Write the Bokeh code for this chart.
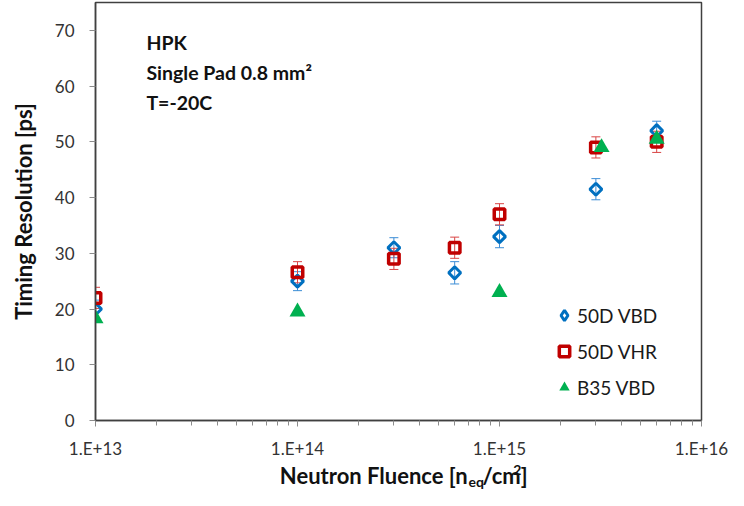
import math
from bokeh.plotting import figure
from bokeh.layouts import column
from bokeh.models import (ColumnDataSource, Whisker, TeeHead, Label, Range1d,
                          FixedTicker, CustomJSTickFormatter, Legend)
from bokeh.embed import file_html
from bokeh.resources import INLINE

# ---- data ----
vbd_x = [1e13, 1e14, 3e14, 6e14, 1e15, 3e15, 6e15]
vbd_y = [20.0, 25.0, 31.0, 26.5, 33.0, 41.5, 52.0]
vbd_err = [1.6, 1.7, 1.8, 2.0, 2.0, 1.9, 1.7]

vhr_x = [1e13, 1e14, 3e14, 6e14, 1e15, 3e15, 6e15]
vhr_y = [22.0, 26.6, 29.0, 31.0, 37.0, 49.0, 50.0]
vhr_err = [1.9, 1.9, 1.9, 1.9, 1.9, 1.9, 1.9]

b35_x = [1e13, 1e14, 1e15, 3.2e15, 6e15]
b35_y = [18.3, 19.5, 23.0, 49.0, 50.5]

x_major = [1e13, 1e14, 1e15, 1e16]
y_ticks = [0, 10, 20, 30, 40, 50, 60, 70]

FONT = "Lato"
BLUE = "#0070C0"
RED = "#C00000"
GREEN = "#00B050"

p = figure(width=728, height=462, x_axis_type="log",
           x_range=Range1d(1e13, 1e16), y_range=Range1d(0, 75),
           output_backend="svg", toolbar_location=None,
           min_border_left=95, min_border_right=27, min_border_top=2,
           min_border_bottom=42)
p.grid.visible = False
p.outline_line_color = "#404040"
p.outline_line_width = 1.5
p.background_fill_color = "white"
p.border_fill_color = "white"

minor = [m * d for d in [1e13, 1e14, 1e15] for m in range(2, 10)]
p.xaxis.ticker = FixedTicker(ticks=x_major, minor_ticks=minor)
p.xaxis.formatter = CustomJSTickFormatter(
    code="return '1.E+' + Math.round(Math.log10(tick));")
p.yaxis.ticker = FixedTicker(ticks=y_ticks)

for ax in (p.xaxis[0], p.yaxis[0]):
    ax.axis_line_color = "#404040"
    ax.axis_line_width = 1.5
    ax.major_tick_line_color = "#8c8c8c"
    ax.minor_tick_line_color = "#8c8c8c"
    ax.major_tick_in = 0
    ax.major_tick_out = 6
    ax.minor_tick_in = 0
    ax.minor_tick_out = 5
    ax.major_label_text_font = FONT
    ax.major_label_text_font_size = "17px"
    ax.major_label_text_color = "#333333"
    ax.major_label_standoff = 11

p.yaxis.major_label_standoff = 15
p.yaxis.minor_tick_line_color = None
p.yaxis.axis_label = "Timing Resolution [ps]"
p.yaxis.axis_label_text_font = FONT
p.yaxis.axis_label_text_font_size = "22px"
p.yaxis.axis_label_text_font_style = "bold"
p.yaxis.axis_label_text_color = "#111111"
p.yaxis.axis_label_standoff = 15

# error bars
for xs, ys, es, col in [(vbd_x, vbd_y, vbd_err, "#3C8DD6"),
                        (vhr_x, vhr_y, vhr_err, "#D94545")]:
    src = ColumnDataSource(dict(x=xs, upper=[y + e for y, e in zip(ys, es)],
                                lower=[y - e for y, e in zip(ys, es)]))
    w = Whisker(base="x", upper="upper", lower="lower", source=src,
                line_color=col, line_width=1,
                upper_head=TeeHead(size=9, line_color=col, line_width=1),
                lower_head=TeeHead(size=9, line_color=col, line_width=1))
    p.add_layout(w)

r1 = p.scatter(vbd_x, vbd_y, marker="square", angle=math.pi / 4, size=8.5,
               line_color=BLUE, line_width=3, fill_color=None)
r2 = p.scatter(vhr_x, vhr_y, marker="square", size=10.5,
               line_color=RED, line_width=3.5, fill_color=None)
r3 = p.scatter(b35_x, b35_y, marker="triangle", size=16,
               line_color=GREEN, fill_color=GREEN, line_width=0)

# legend proxy for the diamond (legend glyphs ignore angle); not drawn in plot
r1_leg = p.scatter(x=[1e13], y=[float("nan")], marker="diamond", line_color=BLUE,
                   line_width=3, fill_color=None)

legend = Legend(items=[("50D VBD", [r1_leg]), ("50D VHR", [r2]), ("B35 VBD", [r3])],
                location=(456, 20), padding=0, margin=0, spacing=10,
                glyph_width=26, glyph_height=26, label_height=26,
                label_standoff=0, border_line_color=None,
                background_fill_alpha=0,
                label_text_font=FONT, label_text_font_size="19px",
                label_text_color="#1a1a1a")
p.add_layout(legend, "center")

# annotation text
for txt, yv in [("HPK", 67.8), ("Single Pad 0.8 mm\u00b2", 62.4), ("T=-20C", 57.05)]:
    p.add_layout(Label(x=10 ** 13.252, y=yv, text=txt, text_font=FONT,
                       text_font_size="19.5px", text_font_style="bold",
                       text_color="#111111", text_baseline="middle"))

# x axis title strip (with sub/superscript), in pixel-like units, no axes
q = figure(width=728, height=28, x_range=Range1d(0, 728), y_range=Range1d(0, 28),
           output_backend="svg", toolbar_location=None, min_border=0,
           x_axis_location=None, y_axis_location=None)
q.grid.visible = False
q.outline_line_color = None
q.border_fill_color = "white"
parts = [
    ("Neutron Fluence [n", 447, 15, "22px", "right"),
    ("eq", 448, 9, "14px", "left"),
    ("/cm", 465, 15, "22px", "left"),
    ("2", 502, 21, "14px", "left"),
    ("]", 511, 15, "22px", "left"),
]
for txt, xv, yv, fs, al in parts:
    q.add_layout(Label(x=xv, y=yv, text=txt, text_font=FONT,
                       text_font_size=fs, text_font_style="bold",
                       text_color="#111111", text_align=al,
                       text_baseline="middle"))

layout = column(p, q, spacing=0)
open("out.html", "w").write(file_html(layout, INLINE))
